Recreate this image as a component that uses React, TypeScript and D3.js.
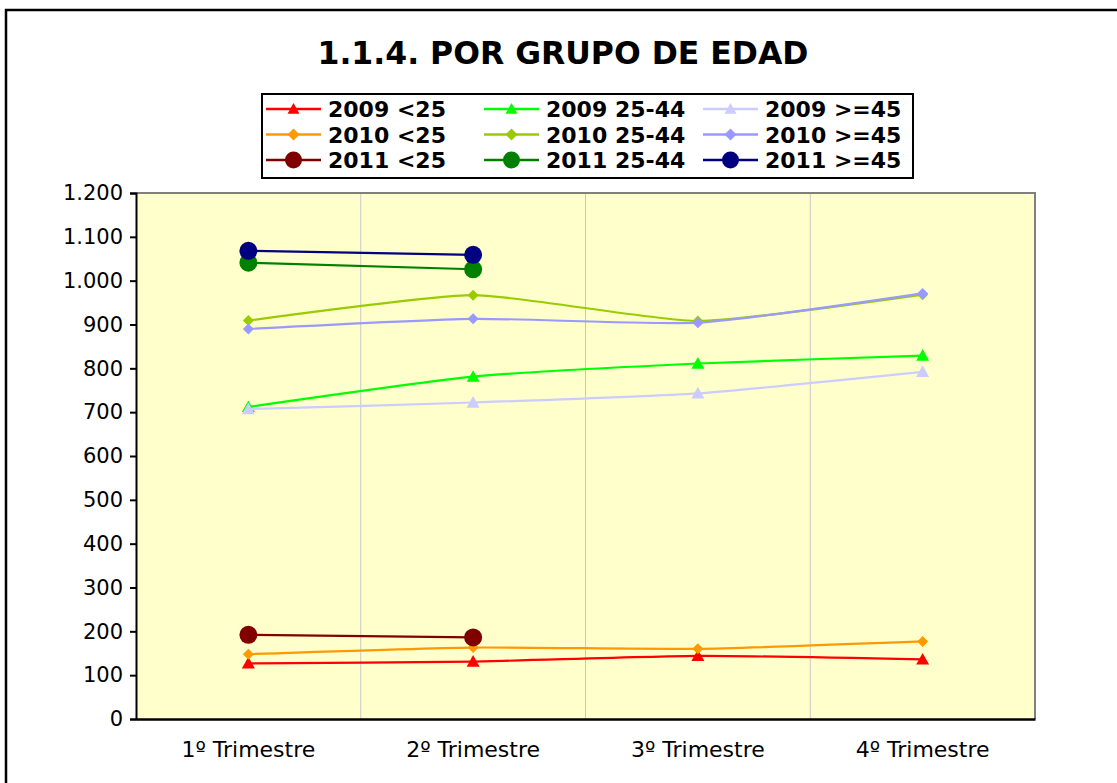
import React, { useEffect, useRef } from "react";
import * as d3 from "d3";

const categories = ["1º Trimestre", "2º Trimestre", "3º Trimestre", "4º Trimestre"];
const yTicks = [0, 100, 200, 300, 400, 500, 600, 700, 800, 900, 1000, 1100, 1200];

const s2009Under25 = [127, 131, 144, 136];
const s2009Mid = [712, 781, 811, 829];
const s2009Over45 = [707, 722, 743, 792];
const s2010Under25 = [148, 163, 160, 177];
const s2010Mid = [909, 967, 908, 968];
const s2010Over45 = [890, 913, 904, 971];
const s2011Under25 = [192, 186];
const s2011Mid = [1041, 1026];
const s2011Over45 = [1068, 1059];

type Marker = "triangle" | "diamond" | "circle";

interface Series {
  name: string;
  values: number[];
  color: string;
  marker: Marker;
}

// legend order is row by row (year), column by column (age group)
const series: Series[] = [
  { name: "2009 <25", values: s2009Under25, color: "#ff0000", marker: "triangle" },
  { name: "2009 25-44", values: s2009Mid, color: "#00ff00", marker: "triangle" },
  { name: "2009 >=45", values: s2009Over45, color: "#ccccff", marker: "triangle" },
  { name: "2010 <25", values: s2010Under25, color: "#ff9900", marker: "diamond" },
  { name: "2010 25-44", values: s2010Mid, color: "#99cc00", marker: "diamond" },
  { name: "2010 >=45", values: s2010Over45, color: "#9999ff", marker: "diamond" },
  { name: "2011 <25", values: s2011Under25, color: "#800000", marker: "circle" },
  { name: "2011 25-44", values: s2011Mid, color: "#008000", marker: "circle" },
  { name: "2011 >=45", values: s2011Over45, color: "#000080", marker: "circle" },
];

const W = 1117;
const H = 783;
const plot = { left: 136, right: 1035, top: 193, bottom: 719 };
const FONT = "'DejaVu Sans', Verdana, sans-serif";

const App: React.FC = () => {
  const svgRef = useRef<SVGSVGElement>(null);

  useEffect(() => {
    if (!svgRef.current) return;
    const svg = d3.select(svgRef.current);
    svg.selectAll("*").remove();

    const esFormat = d3.formatLocale({
      decimal: ",",
      thousands: ".",
      grouping: [3],
      currency: ["", " €"],
    }).format(",d");

    const x = d3.scaleBand<string>()
      .domain(categories)
      .range([plot.left, plot.right]);
    const y = d3.scaleLinear()
      .domain([0, 1200])
      .range([plot.bottom, plot.top]);

    // outer frame (right and bottom run off the picture)
    svg.append("rect")
      .attr("x", 6).attr("y", 10)
      .attr("width", W + 20).attr("height", H + 20)
      .attr("fill", "#fff")
      .attr("stroke", "#000")
      .attr("stroke-width", 2.5);

    // title
    svg.append("text")
      .attr("x", 563).attr("y", 64)
      .attr("text-anchor", "middle")
      .attr("font-family", FONT)
      .attr("font-weight", "bold")
      .attr("font-size", 31.5)
      .text("1.1.4. POR GRUPO DE EDAD");

    // plot background
    svg.append("rect")
      .attr("x", plot.left).attr("y", plot.top)
      .attr("width", plot.right - plot.left)
      .attr("height", plot.bottom - plot.top)
      .attr("fill", "#ffffcc");

    // vertical gridlines between categories
    svg.append("g")
      .selectAll("line")
      .data(categories.slice(1))
      .join("line")
      .attr("x1", d => x(d)!).attr("x2", d => x(d)!)
      .attr("y1", plot.top).attr("y2", plot.bottom)
      .attr("stroke", "#c8c8c8")
      .attr("stroke-width", 1);

    // top and right border of plot
    svg.append("path")
      .attr("d", `M${plot.left},${plot.top}H${plot.right}V${plot.bottom}`)
      .attr("fill", "none")
      .attr("stroke", "#808080")
      .attr("stroke-width", 2);

    // y axis
    const yAxis = svg.append("g")
      .attr("transform", `translate(${plot.left},0)`)
      .call(d3.axisLeft(y).tickValues(yTicks).tickSize(6).tickPadding(7).tickFormat(d => esFormat(d as number)));
    yAxis.select(".domain").attr("stroke", "#000").attr("stroke-width", 2);
    yAxis.selectAll(".tick line").attr("stroke", "#000").attr("stroke-width", 2);
    yAxis.selectAll(".tick text")
      .attr("font-family", FONT)
      .attr("font-size", 21)
      .attr("fill", "#000");

    // x axis
    const xAxis = svg.append("g")
      .attr("transform", `translate(0,${plot.bottom})`)
      .call(d3.axisBottom(x).tickSize(0).tickPadding(22));
    xAxis.select(".domain").attr("stroke", "#000").attr("stroke-width", 2.5);
    xAxis.selectAll(".tick text")
      .attr("font-family", FONT)
      .attr("font-size", 22)
      .attr("fill", "#000");

    const cx = (i: number) => x(categories[i])! + x.bandwidth() / 2;

    const drawMarker = (
      g: d3.Selection<SVGGElement, unknown, null, undefined>,
      marker: Marker,
      px: number,
      py: number,
      color: string,
      size: number
    ) => {
      if (marker === "circle") {
        g.append("circle").attr("cx", px).attr("cy", py).attr("r", size).attr("fill", color);
      } else if (marker === "diamond") {
        g.append("path")
          .attr("d", `M${px},${py - size}L${px + size},${py}L${px},${py + size}L${px - size},${py}Z`)
          .attr("fill", color);
      } else {
        g.append("path")
          .attr("d", `M${px},${py - size}L${px + size},${py + size * 0.8}L${px - size},${py + size * 0.8}Z`)
          .attr("fill", color);
      }
    };

    const markerSize = { triangle: 6.5, diamond: 5.5, circle: 9 };

    // series lines
    series.forEach(s => {
      const g = svg.append("g");
      const line = d3.line<number>()
        .x((_, i) => cx(i))
        .y(d => y(d))
        .curve(s.values.length > 2 ? d3.curveCardinal.tension(0.45) : d3.curveLinear);
      g.append("path")
        .datum(s.values)
        .attr("d", line)
        .attr("fill", "none")
        .attr("stroke", s.color)
        .attr("stroke-width", 2.2);
      s.values.forEach((v, i) => drawMarker(g, s.marker, cx(i), y(v), s.color, markerSize[s.marker]));
    });

    // legend
    const legend = svg.append("g");
    legend.append("rect")
      .attr("x", 262).attr("y", 94)
      .attr("width", 651).attr("height", 84)
      .attr("fill", "#fff")
      .attr("stroke", "#000")
      .attr("stroke-width", 2);

    const colX = [266, 484, 703];
    const rowY = [109, 134.5, 160];
    const legendMarker = { triangle: 6, diamond: 6, circle: 8.5 };
    series.forEach((s, i) => {
      const col = i % 3;
      const row = Math.floor(i / 3);
      const lx = colX[col];
      const ly = rowY[row];
      legend.append("line")
        .attr("x1", lx).attr("x2", lx + 55)
        .attr("y1", ly).attr("y2", ly)
        .attr("stroke", s.color)
        .attr("stroke-width", 2.5);
      drawMarker(legend, s.marker, lx + 27.5, ly, s.color, legendMarker[s.marker]);
      legend.append("text")
        .attr("x", lx + 62).attr("y", ly + 8)
        .attr("font-family", FONT)
        .attr("font-weight", "bold")
        .attr("font-size", 22)
        .text(s.name);
    });
  }, []);

  return (
    <svg
      ref={svgRef}
      width={W}
      height={H}
      style={{ position: "absolute", left: 0, top: 0, background: "#fff" }}
    />
  );
};

export default App;
